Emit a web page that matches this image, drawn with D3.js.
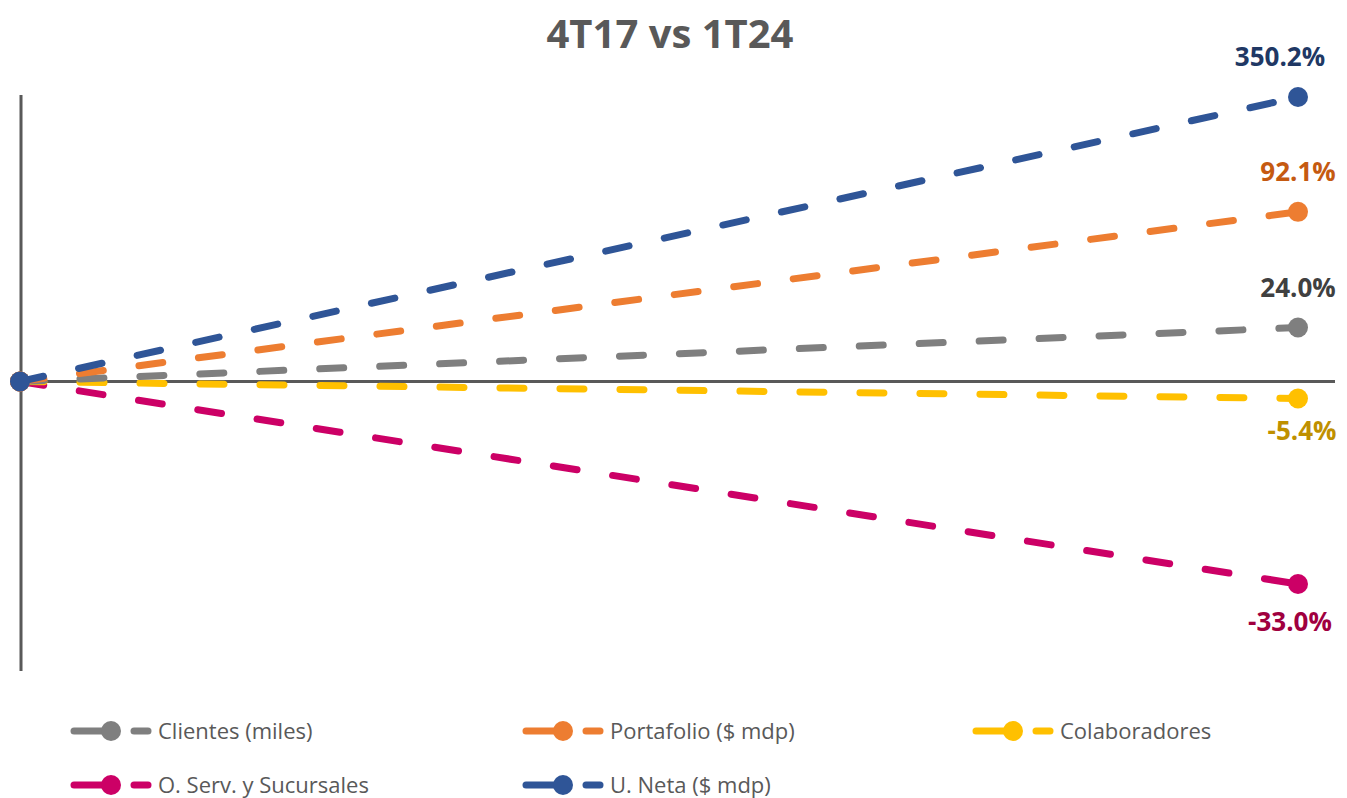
<!DOCTYPE html>
<html>
<head>
<meta charset="utf-8">
<script src="https://cdn.jsdelivr.net/npm/d3@7"></script>
<style>
  body { margin: 0; background: #fff; }
  svg { display: block; font-family: "Open Sans", "Noto Sans", sans-serif; }
</style>
</head>
<body>
<div id="chart"></div>
<script>
// periods compared
const periods = ['4T17', '1T24'];

// series (legend order)
const seriesNames = ['Clientes (miles)', 'Portafolio ($ mdp)', 'Colaboradores', 'O. Serv. y Sucursales', 'U. Neta ($ mdp)'];
// growth labels shown at the end of each line (%)
const growth = [24.0, 92.1, -5.4, -33.0, 350.2];
// plotted height of each line end (the chart is not drawn to a linear % scale)
const plotted = [0.187, 0.588, -0.059, -0.702, 0.986];

const lineColors = ['#7f7f7f', '#ed7d31', '#ffc000', '#cc0066', '#2f5597'];
const labelColors = ['#404040', '#c55a11', '#bf9000', '#a0003f', '#203864'];

const width = 1347, height = 798;

const svg = d3.select('#chart').append('svg')
    .attr('width', width)
    .attr('height', height);

const x = d3.scalePoint()
    .domain(periods)
    .range([20, 1298]);

const y = d3.scaleLinear()
    .domain([-1, 1])
    .range([670, 93]);

// title
svg.append('text')
    .attr('x', 670)
    .attr('y', 48)
    .attr('text-anchor', 'middle')
    .attr('font-size', 40)
    .attr('font-weight', 'bold')
    .attr('fill', '#595959')
    .text('4T17 vs 1T24');

// axes
svg.append('line')
    .attr('x1', x(periods[0]) + 1).attr('x2', x(periods[0]) + 1)
    .attr('y1', y(1) + 2).attr('y2', y(-1) + 1)
    .attr('stroke', '#595959').attr('stroke-width', 3);

svg.append('line')
    .attr('x1', x(periods[0])).attr('x2', 1335)
    .attr('y1', y(0)).attr('y2', y(0))
    .attr('stroke', '#595959').attr('stroke-width', 3);

const data = seriesNames.map((name, i) => ({
    name,
    color: lineColors[i],
    labelColor: labelColors[i],
    growth: growth[i],
    points: [{ p: periods[0], v: 0 }, { p: periods[1], v: plotted[i] }]
}));

const line = d3.line()
    .x(d => x(d.p))
    .y(d => y(d.v));

// draw order: gray, orange, yellow, magenta, blue on top
const order = [3, 2, 0, 1, 4];

const series = svg.append('g').selectAll('g')
    .data(order.map(i => data[i]))
    .join('g');

series.append('path')
    .attr('d', d => line(d.points))
    .attr('fill', 'none')
    .attr('stroke', d => d.color)
    .attr('stroke-width', 7)
    .attr('stroke-linecap', 'round')
    .attr('stroke-dasharray', '24,36');

series.selectAll('circle')
    .data(d => d.points.map(p => ({ ...p, color: d.color })))
    .join('circle')
    .attr('cx', d => x(d.p))
    .attr('cy', d => y(d.v))
    .attr('r', 10)
    .attr('fill', d => d.color);

// end labels
const labelPos = {
    'U. Neta ($ mdp)': { dx: -18, dy: -31 },
    'Portafolio ($ mdp)': { dx: 0, dy: -31 },
    'Clientes (miles)': { dx: 0, dy: -31 },
    'Colaboradores': { dx: 4, dy: 41 },
    'O. Serv. y Sucursales': { dx: -8, dy: 47 }
};

svg.append('g').selectAll('text')
    .data(data)
    .join('text')
    .attr('x', d => x(periods[1]) + labelPos[d.name].dx)
    .attr('y', d => y(d.points[1].v) + labelPos[d.name].dy)
    .attr('text-anchor', 'middle')
    .attr('font-size', 26)
    .attr('font-weight', 'bold')
    .attr('fill', d => d.labelColor)
    .text(d => d.growth.toFixed(1) + '%');

// legend
const legendX = [70, 522, 972];
const legendY = [731, 785];

const legend = svg.append('g').selectAll('g')
    .data(data)
    .join('g')
    .attr('transform', (d, i) => `translate(${legendX[i % 3]},${legendY[Math.floor(i / 3)]})`);

legend.append('line')
    .attr('x1', 4).attr('x2', 40)
    .attr('stroke', d => d.color)
    .attr('stroke-width', 7)
    .attr('stroke-linecap', 'round');

legend.append('circle')
    .attr('cx', 41)
    .attr('r', 10)
    .attr('fill', d => d.color);

legend.append('line')
    .attr('x1', 64).attr('x2', 78)
    .attr('stroke', d => d.color)
    .attr('stroke-width', 7)
    .attr('stroke-linecap', 'round');

legend.append('text')
    .attr('x', 88)
    .attr('y', 8)
    .attr('font-size', 22)
    .attr('fill', '#595959')
    .text(d => d.name);
</script>
</body>
</html>
